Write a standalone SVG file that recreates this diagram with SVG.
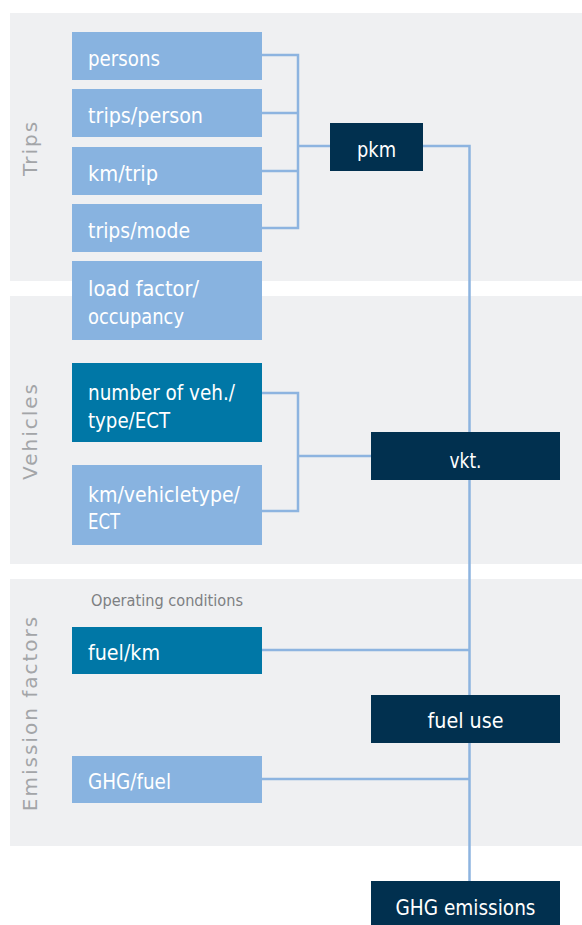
<svg xmlns="http://www.w3.org/2000/svg" width="582" height="925" viewBox="0 0 582 925">
<style>
.band{fill:#eff0f2}
.lt{fill:#88b3e0}
.md{fill:#0077a6}
.dk{fill:#01304f}
.t{font-family:"DejaVu Sans Condensed","DejaVu Sans",sans-serif;font-stretch:condensed;font-size:22px;fill:#ffffff}
.c{text-anchor:middle}
.sec{font-family:"DejaVu Sans","Liberation Sans",sans-serif;font-size:20px;fill:#a3a5a8;letter-spacing:2px;text-anchor:middle}
.op{font-family:"DejaVu Sans Condensed","DejaVu Sans",sans-serif;font-stretch:condensed;font-size:16px;fill:#7d7f82}
.ln{fill:none;stroke:#8db4e0;stroke-width:2.5}
</style>
<rect width="582" height="925" fill="#ffffff"/>
<g id="bands">
<rect class="band" x="10" y="13" width="572" height="268"/>
<rect class="band" x="10" y="296" width="572" height="268"/>
<rect class="band" x="10" y="579" width="572" height="267"/>
<text class="sec" transform="translate(37,148) rotate(-90)">Trips</text>
<text class="sec" transform="translate(37,431) rotate(-90)">Vehicles</text>
<text class="sec" transform="translate(37,713) rotate(-90)">Emission factors</text>
<text class="op" x="91" y="606" textLength="152" lengthAdjust="spacingAndGlyphs">Operating conditions</text>
</g>
<g id="connectors">
<polyline class="ln" points="262,55 298,55 298,228 262,228"/>
<line class="ln" x1="262" y1="113" x2="298" y2="113"/>
<line class="ln" x1="262" y1="171" x2="298" y2="171"/>
<line class="ln" x1="298" y1="146" x2="330" y2="146"/>
<polyline class="ln" points="423,146 469.5,146 469.5,882"/>
<polyline class="ln" points="262,393 298,393 298,511 262,511"/>
<line class="ln" x1="298" y1="456" x2="371" y2="456"/>
<line class="ln" x1="262" y1="650" x2="469.5" y2="650"/>
<line class="ln" x1="262" y1="779" x2="469.5" y2="779"/>
</g>
<g id="persons"><rect class="lt" x="72" y="32" width="190" height="48"/><text class="t" x="88" y="66" textLength="72" lengthAdjust="spacingAndGlyphs">persons</text></g>
<g id="trips-person"><rect class="lt" x="72" y="89" width="190" height="48"/><text class="t" x="88" y="123" textLength="115" lengthAdjust="spacingAndGlyphs">trips/person</text></g>
<g id="km-trip"><rect class="lt" x="72" y="147" width="190" height="48"/><text class="t" x="88" y="181" textLength="70" lengthAdjust="spacingAndGlyphs">km/trip</text></g>
<g id="trips-mode"><rect class="lt" x="72" y="204" width="190" height="48"/><text class="t" x="88" y="238" textLength="102" lengthAdjust="spacingAndGlyphs">trips/mode</text></g>
<g id="load-factor"><rect class="lt" x="72" y="261" width="190" height="79"/><text class="t" x="88" y="296" textLength="111" lengthAdjust="spacingAndGlyphs">load factor/</text><text class="t" x="88" y="324" textLength="96" lengthAdjust="spacingAndGlyphs">occupancy</text></g>
<g id="number-veh"><rect class="md" x="72" y="363" width="190" height="79"/><text class="t" x="88" y="400" textLength="147" lengthAdjust="spacingAndGlyphs">number of veh./</text><text class="t" x="88" y="428" textLength="82" lengthAdjust="spacingAndGlyphs">type/ECT</text></g>
<g id="km-vehicletype"><rect class="lt" x="72" y="465" width="190" height="80"/><text class="t" x="88" y="502" textLength="152" lengthAdjust="spacingAndGlyphs">km/vehicletype/</text><text class="t" x="88" y="529" textLength="32" lengthAdjust="spacingAndGlyphs">ECT</text></g>
<g id="fuel-km"><rect class="md" x="72" y="627" width="190" height="47"/><text class="t" x="88" y="660" textLength="72" lengthAdjust="spacingAndGlyphs">fuel/km</text></g>
<g id="ghg-fuel"><rect class="lt" x="72" y="756" width="190" height="47"/><text class="t" x="88" y="789" textLength="83" lengthAdjust="spacingAndGlyphs">GHG/fuel</text></g>
<g id="pkm"><rect class="dk" x="330" y="123" width="93" height="48"/><text class="t c" x="376.5" y="157" textLength="39" lengthAdjust="spacingAndGlyphs">pkm</text></g>
<g id="vkt"><rect class="dk" x="371" y="432" width="189" height="48"/><text class="t c" x="465.5" y="468" textLength="32" lengthAdjust="spacingAndGlyphs">vkt.</text></g>
<g id="fuel-use"><rect class="dk" x="371" y="695" width="189" height="48"/><text class="t c" x="465.5" y="728" textLength="76" lengthAdjust="spacingAndGlyphs">fuel use</text></g>
<g id="ghg-emissions"><rect class="dk" x="371" y="881" width="189" height="44"/><text class="t c" x="465.5" y="915" textLength="140" lengthAdjust="spacingAndGlyphs">GHG emissions</text></g>
</svg>
